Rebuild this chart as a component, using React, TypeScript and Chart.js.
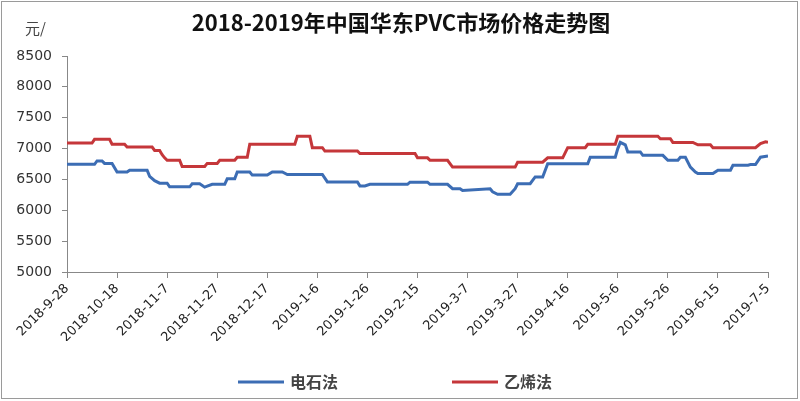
import React, { useEffect, useRef } from "react";
import { Chart, registerables } from "chart.js";

Chart.register(...registerables);

const titleText = "2018-2019年中国华东PVC市场价格走势图";
const unitText = "元/";
const seriesNames = ["电石法", "乙烯法"];
const seriesColors = ["#3C6DB4", "#C5373A"];

const tickLabels = [
  "2018-9-28", "2018-10-18", "2018-11-7", "2018-11-27", "2018-12-17",
  "2019-1-6", "2019-1-26", "2019-2-15", "2019-3-7", "2019-3-27",
  "2019-4-16", "2019-5-6", "2019-5-26", "2019-6-15", "2019-7-5",
];

// day offsets from 2018-9-28 and prices (电石法)
const carbideDays = [
  0, 11, 12, 14, 15, 18, 20, 24, 25, 32, 33, 35, 37, 40, 41, 49, 50, 53, 55, 56,
  58, 63, 64, 67, 68, 73, 74, 80, 82, 86, 88, 102, 104, 116, 117, 119, 121, 136,
  137, 144, 145, 152, 154, 157, 158, 169, 170, 172, 177, 179, 180, 185, 187, 190,
  192, 208, 209, 219, 220, 221, 223, 224, 229, 230, 238, 240, 244, 245, 247, 249,
  251, 252, 258, 260, 265, 266, 272, 273, 275, 277, 280,
];
const carbideValues = [
  6745, 6745, 6800, 6800, 6760, 6760, 6620, 6620, 6650, 6650, 6550, 6480, 6440, 6440, 6380, 6380, 6430, 6430, 6375, 6390,
  6420, 6420, 6510, 6510, 6620, 6620, 6570, 6570, 6620, 6620, 6580, 6580, 6460, 6460, 6395, 6395, 6420, 6420,
  6455, 6455, 6420, 6420, 6350, 6350, 6320, 6350, 6300, 6260, 6260, 6350, 6430, 6430, 6540, 6540,
  6755, 6755, 6860, 6860, 7000, 7100, 7060, 6945, 6945, 6890, 6890, 6810, 6810, 6860, 6860, 6700,
  6620, 6595, 6595, 6650, 6650, 6730, 6730, 6740, 6740, 6860, 6880,
];

// day offsets from 2018-9-28 and prices (乙烯法)
const ethyleneDays = [
  0, 10, 11, 17, 18, 23, 24, 34, 35, 37, 38, 39, 40, 45, 46, 55, 56, 60, 61, 67,
  68, 72, 73, 91, 92, 97, 98, 102, 103, 116, 117, 139, 140, 144, 145, 152, 154, 179,
  180, 190, 192, 198, 200, 207, 208, 219, 220, 236, 237, 241, 242, 250, 252, 257,
  258, 275, 277, 279, 280,
];
const ethyleneValues = [
  7090, 7090, 7150, 7150, 7070, 7070, 7025, 7025, 6970, 6970, 6900, 6850, 6810, 6810, 6710, 6710, 6760, 6760, 6810, 6810,
  6860, 6860, 7070, 7070, 7200, 7200, 7015, 7015, 6960, 6960, 6920, 6920, 6850, 6850, 6810, 6810, 6700, 6700,
  6780, 6780, 6850, 6850, 7015, 7015, 7070, 7070, 7200, 7200, 7160, 7160, 7100, 7100, 7060, 7060,
  7015, 7015, 7080, 7110, 7100,
];

const yMin = 5000;
const yMax = 8500;
const yStep = 500;
const dayStep = 20;

const extrasPlugin = {
  id: "extras",
  afterDraw(chart: any) {
    const ctx = chart.ctx;
    ctx.save();
    // title
    ctx.font = "bold 22px 'Noto Sans CJK SC'";
    ctx.fillStyle = "#111";
    ctx.textAlign = "center";
    ctx.textBaseline = "middle";
    ctx.fillText(titleText, 401, 23);
    // unit label
    ctx.font = "15px 'Noto Sans CJK SC'";
    ctx.fillStyle = "#444";
    ctx.textAlign = "left";
    ctx.textBaseline = "middle";
    ctx.fillText(unitText, 25, 28);
    // legend
    const cx = chart.width / 2;
    const starts = [cx - 162, cx + 52];
    const y = 382;
    chart.data.datasets.forEach((ds: any, i: number) => {
      const x0 = starts[i];
      ctx.strokeStyle = ds.borderColor;
      ctx.lineWidth = 3;
      ctx.beginPath();
      ctx.moveTo(x0, y);
      ctx.lineTo(x0 + 46, y);
      ctx.stroke();
      ctx.font = "bold 16px 'Noto Sans CJK SC'";
      ctx.fillStyle = "#444";
      ctx.textAlign = "left";
      ctx.textBaseline = "middle";
      ctx.fillText(ds.label, x0 + 52, y);
    });
    ctx.restore();
  },
};

export default function App() {
  const ref = useRef<HTMLCanvasElement | null>(null);

  useEffect(() => {
    if (!ref.current) return;
    const mk = (days: number[], vals: number[]) => days.map((d, i) => ({ x: d, y: vals[i] }));
    const chart = new Chart(ref.current, {
      type: "line",
      data: {
        datasets: [
          {
            label: seriesNames[0],
            data: mk(carbideDays, carbideValues),
            borderColor: seriesColors[0],
            backgroundColor: seriesColors[0],
            borderWidth: 3,
            pointRadius: 0,
            tension: 0,
          },
          {
            label: seriesNames[1],
            data: mk(ethyleneDays, ethyleneValues),
            borderColor: seriesColors[1],
            backgroundColor: seriesColors[1],
            borderWidth: 3,
            pointRadius: 0,
            tension: 0,
          },
        ],
      },
      options: {
        animation: false,
        responsive: false,
        devicePixelRatio: 1,
        layout: { padding: { left: 0, right: 32, top: 56, bottom: 60 } },
        plugins: {
          legend: { display: false },
          tooltip: { enabled: false },
          title: { display: false },
        },
        scales: {
          x: {
            type: "linear",
            min: 0,
            max: (tickLabels.length - 1) * dayStep,
            afterBuildTicks: (s: any) => {
              s.ticks = tickLabels.map((_, i) => ({ value: i * dayStep }));
            },
            afterFit: (s: any) => {
              s.height = 69;
            },
            ticks: {
              autoSkip: false,
              minRotation: 45,
              maxRotation: 45,
              padding: 3,
              color: "#222",
              font: { family: "'DejaVu Sans'", size: 13 },
              callback: (v: any) => tickLabels[Math.round(Number(v) / dayStep)] ?? "",
            },
            grid: { drawOnChartArea: false, drawTicks: true, tickLength: 6, color: "#888" },
            border: { display: true, color: "#888", width: 1 },
          },
          y: {
            min: yMin,
            max: yMax,
            afterFit: (s: any) => {
              s.width = 67;
            },
            ticks: {
              stepSize: yStep,
              padding: 10,
              color: "#333",
              font: { family: "'DejaVu Sans'", size: 14 },
              callback: (v: any) => String(v),
            },
            grid: { drawOnChartArea: false, drawTicks: true, tickLength: 5, color: "#888" },
            border: { display: true, color: "#888", width: 1 },
          },
        },
      },
      plugins: [extrasPlugin],
    });
    return () => chart.destroy();
  }, []);

  return (
    <div style={{ position: "fixed", left: 0, top: 0, width: 800, height: 401, background: "#fff" }}>
      <canvas ref={ref} width={800} height={401} style={{ display: "block" }} />
      <div
        style={{
          position: "absolute",
          left: 1,
          top: 1,
          width: 797,
          height: 398,
          border: "1px solid #9a9a9a",
          boxSizing: "border-box",
          pointerEvents: "none",
        }}
      />
    </div>
  );
}
